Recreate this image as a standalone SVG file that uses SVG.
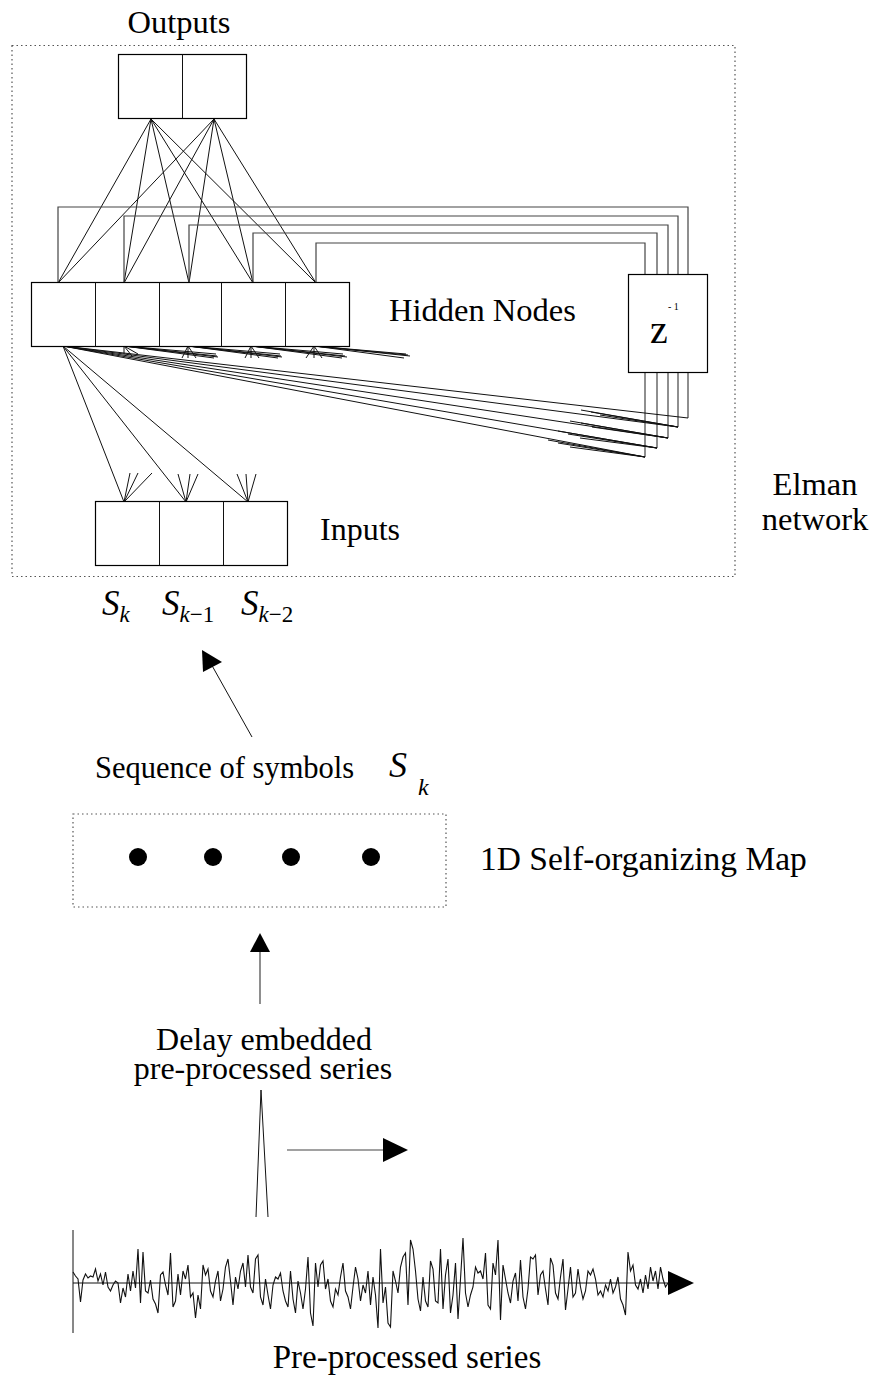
<svg xmlns="http://www.w3.org/2000/svg" width="875" height="1379" viewBox="0 0 875 1379">
<style>
.lbl{font-family:"Liberation Serif","Times New Roman",serif;font-size:32.5px;fill:#000}
.math{font-family:"Liberation Serif","Times New Roman",serif;font-style:italic;font-size:35px;fill:#000}
.sub{font-size:23px}
.up{font-style:normal}
.box{fill:#fff;stroke:#000;stroke-width:1.2}
.dot{fill:none;stroke:#555;stroke-width:1.2;stroke-dasharray:1.5 3}
.c{fill:none;stroke:#111;stroke-width:1}
.g{fill:none;stroke:#444;stroke-width:1.2}
</style>
<rect width="875" height="1379" fill="#fff"/>
<rect class="dot" x="12" y="45.5" width="723" height="531"/>
<rect class="dot" x="73" y="814" width="373" height="93"/>

<g id="connectors">
  <path class="c" d="M151,119L58,283M151,119L124,283M151,119L189,283M151,119L253,283M151,119L316,283M214,119L58,283M214,119L124,283M214,119L189,283M214,119L253,283M214,119L316,283"/>
  <path class="g" d="M58,283V207H688V418M124,283V216H678V427M189,283V225H668V438M253,283V233H657V448M316,283V243H645V457"/>
  <path class="c" d="M63,346L645,457M63,346L657,448M63,346L668,438M63,346L678,427M63,346L688,418"/>
  <path class="c" d="M581,410L678,427M591,412L678,427M600,415L678,427M570,421L668,438M581,423L668,438M592,427L668,438M558,431L657,448M568,434L657,448M580,438L657,448M548,440L645,457M558,443L645,457M570,447L645,457"/>
  <path class="c" d="M124,346L216,354M124,346L217,356M124,346L218,357M124,346L214,358M188,346L280,354M188,346L281,356M188,346L282,357M188,346L278,358M251,346L343,354M251,346L345,356M251,346L347,357M251,346L342,358M314,346L406,354M314,346L408,355M314,346L410,356M314,346L404,358"/>
  <path class="c" d="M124,346V354M124,346L138,354M124,346L132,356M188,346L182,358M188,346L188,358M188,346L196,358M251,346L245,358M251,346L251,358M251,346L259,358M314,346L306,358M314,346L314,358M314,346L322,358"/>
  <path class="c" d="M63,346L124,502M63,346L186,502M63,346L248,502"/>
  <path class="c" d="M124,502L130,473M124,502L138,473M124,502L152,473M186,502L178,474M186,502L190,474M186,502L198,474M248,502L237,474M248,502L246,474M248,502L256,474"/>
  <line class="c" x1="252" y1="737" x2="210" y2="662"/>
  <polygon points="202,650 222,662 203,672" fill="#000"/>
  <line class="g" x1="260" y1="1004" x2="260" y2="950"/>
  <polygon points="260,933 270,952 250,952" fill="#000"/>
  <polyline class="c" points="256,1217 261,1090 268,1217"/>
  <line class="g" x1="287" y1="1150" x2="385" y2="1150"/>
  <polygon points="383,1138 408,1150 383,1162" fill="#000"/>
</g>

<g id="outputs">
  <rect class="box" x="118.5" y="54.5" width="128" height="64"/>
  <line class="c" x1="182.5" y1="54.5" x2="182.5" y2="118.5"/>
  <text class="lbl" x="179" y="33" text-anchor="middle">Outputs</text>
</g>

<g id="hidden">
  <rect class="box" x="31.5" y="282.5" width="318" height="64"/>
  <path class="c" d="M95.5,282.5V346.5M159.5,282.5V346.5M221.5,282.5V346.5M285.5,282.5V346.5"/>
  <text class="lbl" x="389" y="321">Hidden Nodes</text>
</g>

<g id="delay">
  <rect class="box" x="628.5" y="274.5" width="79" height="98"/>
  <text class="lbl" x="650" y="343" style="font-size:40px">z</text>
  <text class="lbl" x="668" y="310" style="font-size:10px">- 1</text>
</g>

<g id="inputs">
  <rect class="box" x="95.5" y="501.5" width="192" height="64"/>
  <path class="c" d="M159.5,501.5V565.5M223.5,501.5V565.5"/>
  <text class="lbl" x="320" y="540" style="font-size:32px">Inputs</text>
</g>

<g id="elman-label">
  <text class="lbl" x="815" y="495" text-anchor="middle">Elman</text>
  <text class="lbl" x="815" y="530" text-anchor="middle">network</text>
</g>

<g id="symbols-row">
  <text class="math" x="102" y="615">S<tspan class="sub" dy="7">k</tspan></text>
  <text class="math" x="162" y="615">S<tspan class="sub" dy="7">k</tspan><tspan class="sub up">−1</tspan></text>
  <text class="math" x="241" y="615">S<tspan class="sub" dy="7">k</tspan><tspan class="sub up">−2</tspan></text>
</g>

<g id="sequence">
  <text class="lbl" x="95" y="778" style="font-size:30.5px">Sequence of symbols</text>
  <text class="math" x="389" y="777" style="font-size:36px">S</text>
  <text class="math" x="418" y="795" style="font-size:24px">k</text>
</g>

<g id="som">
  <circle cx="138" cy="857" r="9"/>
  <circle cx="213" cy="857" r="9"/>
  <circle cx="291" cy="857" r="9"/>
  <circle cx="371" cy="857" r="9"/>
  <text class="lbl" x="480" y="870" style="font-size:33.5px">1D Self-organizing Map</text>
</g>

<g id="delay-label">
  <text class="lbl" x="264" y="1050" text-anchor="middle" style="font-size:32px">Delay embedded</text>
  <text class="lbl" x="263" y="1079" text-anchor="middle" style="font-size:32px">pre-processed series</text>
</g>

<g id="series">
  <line class="c" x1="73" y1="1230" x2="73" y2="1333"/>
  <line class="c" x1="73" y1="1283" x2="670" y2="1283"/>
  <polygon points="668,1271 694,1283 668,1295" fill="#000"/>
  <polyline fill="none" stroke="#111" stroke-width="1.1" vector-effect="non-scaling-stroke" transform="translate(73,1283) scale(2.5,1)" points="0,-11 1,-7 2,-4 3,19 4,-3 5,-9 6,-5 7,-7 8,-6 9,-14 10,-2 11,-9 12,2 13,-11 14,4 15,8 16,2 17,-2 18,0 19,20 20,5 21,14 22,-9 23,8 24,-12 25,5 26,-34 27,20 28,-31 29,8 30,10 31,-3 32,16 33,21 34,30 35,-8 36,-11 37,2 38,12 39,-30 40,24 41,18 42,-9 43,12 44,-12 45,-4 46,-18 47,14 48,10 49,35 50,12 51,26 52,-18 53,-8 54,-14 55,8 56,14 57,-2 58,-12 59,18 60,6 61,-16 62,-24 63,-2 64,22 65,-6 66,6 67,-12 68,-20 69,4 70,-28 71,4 72,10 73,-24 74,-28 75,14 76,22 77,-4 78,12 79,26 80,2 81,-6 82,-4 83,-10 84,8 85,18 86,24 87,-12 88,16 89,30 90,-2 91,10 92,26 93,6 94,-26 95,30 96,43 97,-20 98,4 99,-18 100,-22 101,6 102,-4 103,18 104,24 105,6 106,12 107,-6 108,-20 109,8 110,14 111,26 112,4 113,-16 114,-4 115,18 116,2 117,10 118,-12 119,22 120,-6 121,12 122,45 123,-34 124,20 125,4 126,40 127,44 128,-12 129,-2 130,10 131,-16 132,-26 133,-30 134,22 135,-43 136,-34 137,-12 138,16 139,28 140,-6 141,18 142,24 143,-22 144,-14 145,18 146,20 147,-34 148,26 149,-8 150,-24 151,30 152,12 153,-20 154,36 155,-4 156,-45 157,10 158,24 159,12 160,4 161,-16 162,-10 163,-12 164,-4 165,-30 166,22 167,26 168,-20 169,-8 170,-43 171,37 172,-18 173,-4 174,10 175,20 176,-2 177,-10 178,18 179,-23 180,14 181,26 182,6 183,-26 184,-24 185,-28 186,12 187,-8 188,-12 189,6 190,22 191,-25 192,-18 193,10 194,16 195,-6 196,-24 197,27 198,6 199,-16 200,14 201,10 202,-14 203,4 204,16 205,8 206,-12 207,-8 208,-14 209,-4 210,12 211,8 212,14 213,2 214,8 215,-4 216,10 217,4 218,-6 219,16 220,22 221,32 222,-31 223,-12 224,-18 225,2 226,6 227,-4 228,10 229,-8 230,6 231,-16 232,-2 233,-12 234,6 235,-16 236,-4 237,4 238,0"/>
  <text class="lbl" x="407" y="1368" text-anchor="middle" style="font-size:33px">Pre-processed series</text>
</g>
</svg>
